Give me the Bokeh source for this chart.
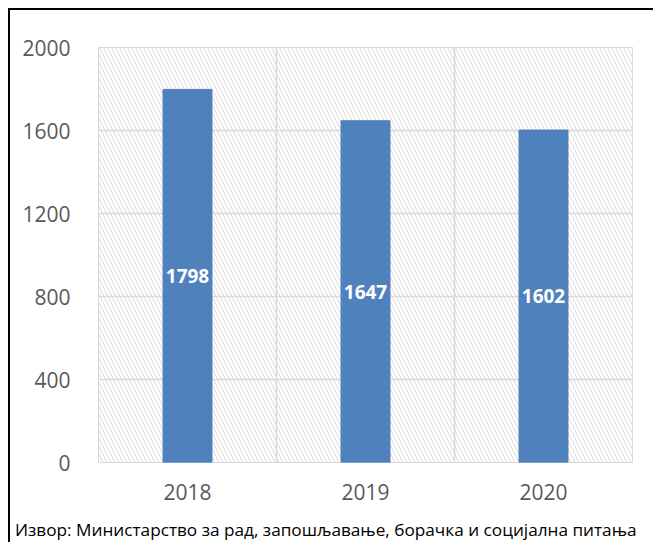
import numpy as np
from bokeh.plotting import figure
from bokeh.models import ColumnDataSource, FixedTicker, BoxAnnotation, Range1d, Div
from bokeh.layouts import column
from bokeh.core.properties import value
from bokeh.embed import file_html
from bokeh.resources import INLINE

years = ["2018", "2019", "2020"]
counts = [1798, 1647, 1602]
y_ticks = [0, 400, 800, 1200, 1600, 2000]
source_note = "Извор: Министарство за рад, запошљавање, борачка и социјална питања"

xs = [i + 0.5 for i in range(len(years))]
src = ColumnDataSource(dict(x=xs, top=counts, mid=[c / 2 for c in counts],
                            lab=[str(c) for c in counts]))

p = figure(width=643, height=500, output_backend="svg", toolbar_location=None,
           x_range=Range1d(0, len(years)), y_range=Range1d(0, 2000),
           min_border_left=88, min_border_right=21, min_border_top=37, min_border_bottom=48)

p.add_layout(BoxAnnotation(left=0, right=len(years), bottom=0, top=2000,
                           fill_alpha=0, line_alpha=0,
                           hatch_pattern="\\", hatch_color="#dadada",
                           hatch_scale=8, hatch_weight=1, level="underlay"))

p.vbar(x="x", top="top", width=0.275, source=src, color="#4f81bd")
p.text(x="x", y="mid", text="lab", source=src, text_color="white",
       text_font=value("Open Sans"), text_font_style="bold", text_font_size="19px",
       text_align="center", text_baseline="middle")

p.outline_line_color = "#d9d9d9"
p.xgrid.ticker = FixedTicker(ticks=list(range(len(years) + 1)))
p.ygrid.ticker = FixedTicker(ticks=y_ticks)
p.xgrid.grid_line_color = "#d9d9d9"
p.ygrid.grid_line_color = "#d9d9d9"
p.xgrid.grid_line_width = 1.5
p.ygrid.grid_line_width = 1.5

p.xaxis.ticker = FixedTicker(ticks=xs)
p.xaxis.major_label_overrides = {x: y for x, y in zip(xs, years)}
p.yaxis.ticker = FixedTicker(ticks=y_ticks)
for ax in (p.xaxis, p.yaxis):
    ax.axis_line_color = None
    ax.major_tick_line_color = None
    ax.minor_tick_line_color = None
    ax.major_label_text_font = "Open Sans"
    ax.major_label_text_font_size = "21px"
    ax.major_label_text_color = "#595959"
p.xaxis.major_label_standoff = 15
p.yaxis.major_label_standoff = 22

note = Div(text=('<div style="font-family:\'Open Sans\';font-size:17.2px;color:black;'
                 'line-height:20px;padding-top:5px;padding-left:0px;white-space:nowrap;">'
                 + source_note + '</div>'),
           width=643, height=32)

layout = column(p, note, spacing=0)
layout.styles = {"border-left": "2px solid black", "border-top": "2px solid black",
                 "margin-left": "8px", "margin-top": "8px", "background": "white"}

open("out.html", "w").write(file_html(layout, INLINE))
